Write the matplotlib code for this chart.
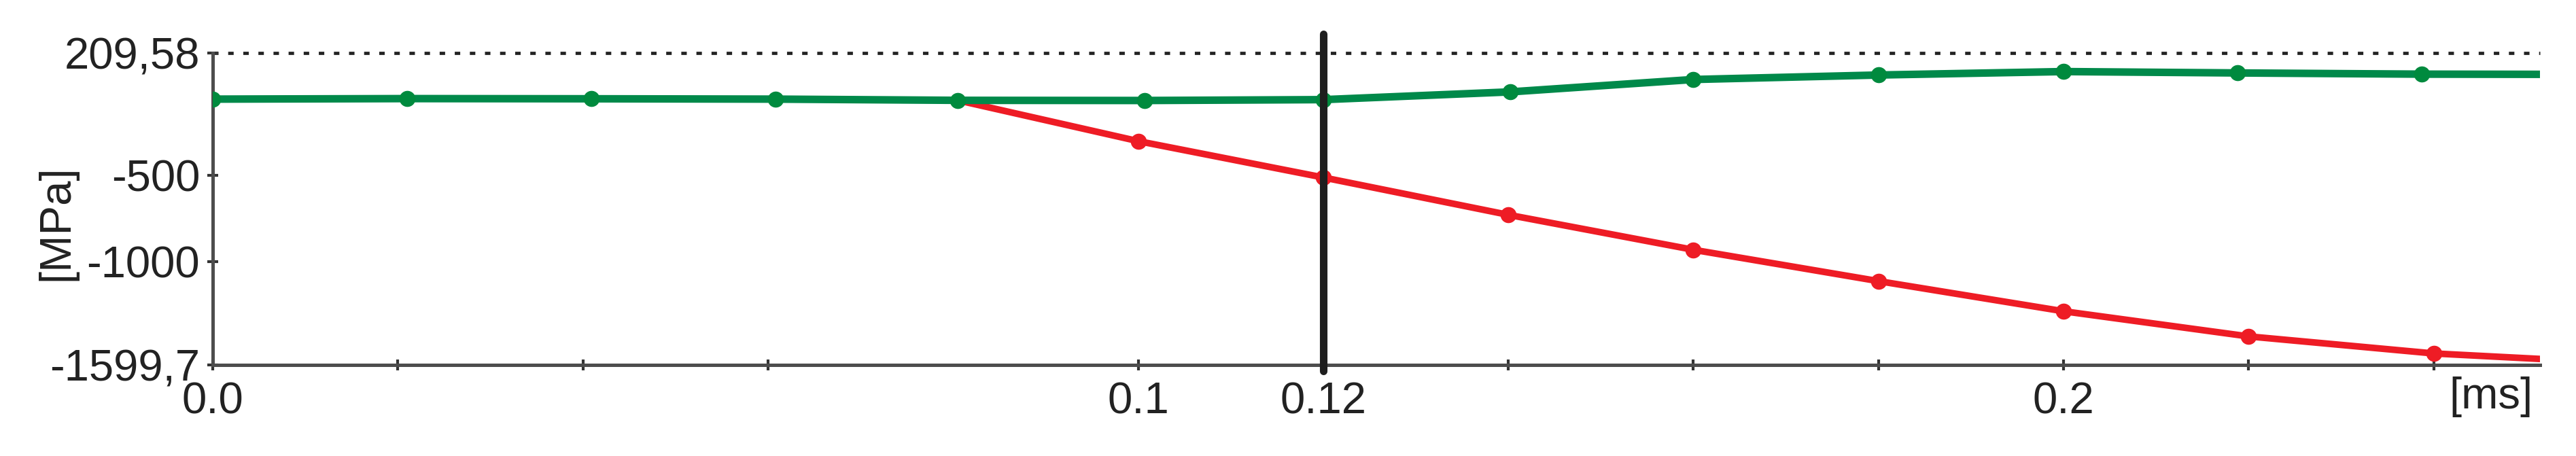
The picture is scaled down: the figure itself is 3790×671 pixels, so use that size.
import matplotlib
matplotlib.use("Agg")
import matplotlib.pyplot as plt

plt.rcParams['font.family'] = ['Liberation Sans', 'DejaVu Sans']
plt.rcParams['lines.scale_dashes'] = False

# time [ms] and stress [MPa]
green_t = [0, 0.021, 0.0409, 0.0608, 0.0805, 0.1007, 0.12, 0.1402, 0.16, 0.18, 0.2, 0.2188, 0.2387, 0.2515]
green_v = [-57, -54, -55, -57, -64, -65, -60, -15, 57, 83, 103, 95, 88, 87]

red_t = [0.0805, 0.1, 0.12, 0.14, 0.16, 0.18, 0.2, 0.22, 0.24, 0.2515]
red_v = [-64, -301, -512, -729, -932, -1114, -1289, -1435, -1534, -1566]

y_min, y_max = -1599.7, 209.58
y_ticks = [209.58, -500, -1000, -1599.7]
y_labels = ["209,58", "-500", "-1000", "-1599,7"]
x_ticks = [0.0, 0.1, 0.12, 0.2]
x_labels = ["0.0", "0.1", "0.12", "0.2"]
x_minor = [0.02, 0.04, 0.06, 0.14, 0.16, 0.18, 0.22, 0.24]
t_cursor = 0.12
x_end = 0.2515

fig = plt.figure(figsize=(37.91, 6.71), dpi=100)
ax = fig.add_axes([0.0826, 0.2001, 0.9032, 0.6832])

# red curve (under the green one)
ax.plot(red_t, red_v, color='#ee1c25', lw=7, solid_capstyle='butt', zorder=2,
        marker='o', ms=16, markevery=slice(1, len(red_t) - 1))
# green curve
ax.plot(green_t, green_v, color='#00894a', lw=8, solid_capstyle='butt', zorder=3,
        marker='o', ms=16, mfc='#008a3e', mec='#008a3e', markevery=slice(0, len(green_t) - 1))

# dotted max line
ax.axhline(y_max, color='#222222', lw=3.4, dashes=[5.8, 10.2], zorder=1, clip_on=False)
# cursor line at 0.12 ms
ax.axvline(t_cursor, ymin=-0.02, ymax=1.061, color='#1e1e1e', lw=8, zorder=4,
           clip_on=False, solid_capstyle='round')

ax.set_xlim(0, x_end)
ax.set_ylim(y_min, y_max)

for s in ['top', 'right']:
    ax.spines[s].set_visible(False)
for s in ['left', 'bottom']:
    ax.spines[s].set_color('#4d4d4d')
    ax.spines[s].set_linewidth(3.6)

ax.set_xticks(x_ticks)
ax.set_xticklabels(x_labels)
ax.set_xticks(x_minor, minor=True)
ax.set_yticks(y_ticks)
ax.set_yticklabels(y_labels)
ax.tick_params(axis='both', which='both', direction='inout', length=11.5, width=3,
               color='#333333', labelsize=47, labelcolor='#222222')
ax.tick_params(axis='x', pad=12)
ax.tick_params(axis='y', pad=8)

fig.text(0.0219, 0.511, "[MPa]", rotation=90, fontsize=47, color='#222222',
         ha='center', va='center')
fig.text(0.9829, 0.175, "[ms]", fontsize=47, color='#222222', ha='right', va='top')

fig.savefig("out.png", dpi=100, facecolor='white')
